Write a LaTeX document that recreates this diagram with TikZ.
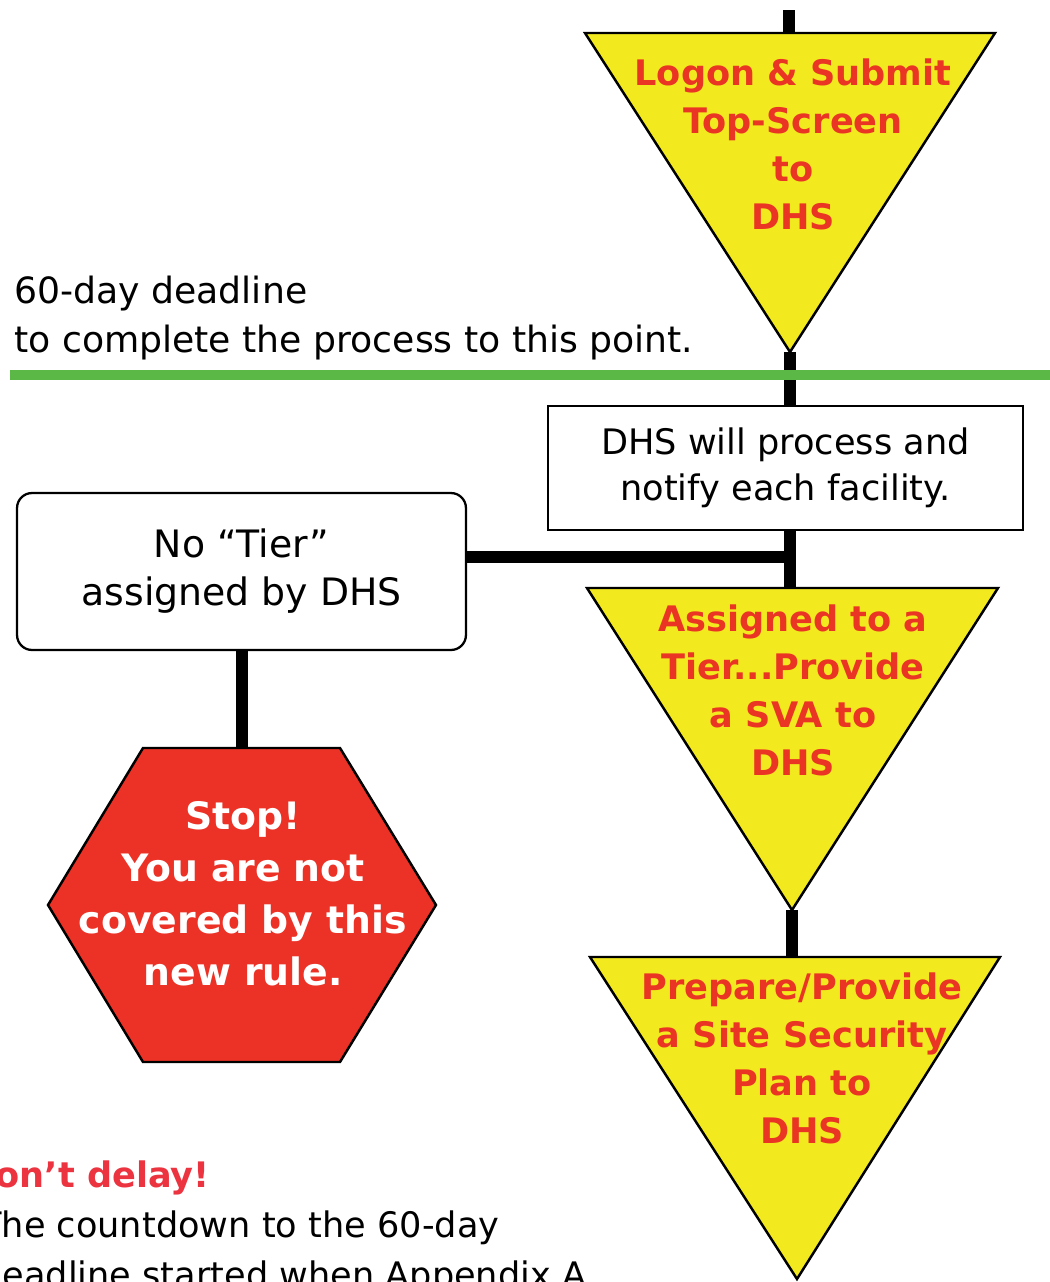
\documentclass[tikz,border=0pt]{standalone}
\usepackage{fontspec}
\setmainfont{DejaVu Sans}
\usetikzlibrary{positioning, calc}

\definecolor{signyellow}{RGB}{242,234,30}
\definecolor{signred}{RGB}{234,52,36}
\definecolor{stopred}{RGB}{236,50,38}
\definecolor{delayred}{RGB}{236,52,64}
\definecolor{deadlinegreen}{RGB}{92,184,70}

\begin{document}
\begin{tikzpicture}[
            x=0.02cm, y=-0.02cm,
            flow_line/.style={line width=0.24cm, black},
            deadline_line/.style={line width=0.2cm, deadlinegreen},
            info_box/.style={rectangle, draw, line width=1.3pt, fill=white, minimum width=9.5cm, minimum height=2.48cm, align=center, font=\fontsize{20}{26.5}\selectfont},
            tier_box/.style={info_box, rounded corners=0.3cm, minimum width=8.98cm, minimum height=3.14cm, font=\fontsize{21.5}{27.3}\selectfont},
            sign_shape/.style={draw, line width=1.4pt, fill=signyellow},
            sign_text/.style={align=center, text=signred, font=\bfseries\fontsize{20}{27.3}\selectfont},
            stop_shape/.style={draw, line width=1.4pt, fill=stopred},
            stop_text/.style={align=center, text=white, font=\bfseries\fontsize{21.5}{29.6}\selectfont},
            note_text/.style={align=left, anchor=west, inner sep=0pt, font=\fontsize{20.6}{28.4}\selectfont}
        ]
    
        \clip (0,0) rectangle (1050,1282);
        \fill[white] (0,0) rectangle (1050,1282);
    
        \coordinate (feed_in) at (789,10);
        \coordinate (submit_top) at (789,33);
        \coordinate (submit_tip) at (790,352);
        \coordinate (tier_join) at (790,557);
        \coordinate (assign_top) at (790,588);
        \coordinate (assign_tip) at (792,910);
        \coordinate (plan_top) at (795,957);
        \coordinate (plan_tip) at (797,1279);
        \coordinate (stop_top) at (241.5,748);
        
        \node[info_box] (dhs_process) at (785.5,468) {DHS will process and\\notify each facility.};
        
        \node[tier_box] (no_tier) at (241.5,571.5) {No “Tier”\\assigned by DHS};
    
        % connectors go under the signs
        \draw[flow_line] (feed_in) -- (submit_top);
        \draw[flow_line] (submit_tip) -- (submit_tip |- dhs_process.north);
        \draw[flow_line] (assign_top |- dhs_process.south) -- (assign_top);
        \draw[flow_line] (tier_join) -- (tier_join -| no_tier.east);
        \draw[flow_line] (no_tier.south) -- (stop_top);
        \draw[flow_line] (assign_tip) -- (assign_tip |- plan_top);
    
        \draw[sign_shape] (585,33) -- (995,33) -- (submit_tip) -- cycle;
        \node[sign_text] (submit_label) at (793,144) {Logon \& Submit\\Top-Screen\\to\\DHS};
        
        \draw[sign_shape] (587,588) -- (998,588) -- (assign_tip) -- cycle;
        \node[sign_text] (assign_label) at (793,690) {Assigned to a\\Tier...Provide\\a SVA to\\DHS};
        
        \draw[sign_shape] (590,957) -- (1000,957) -- (plan_tip) -- cycle;
        \node[sign_text] (plan_label) at (802,1058) {Prepare/Provide\\a Site Security\\Plan to\\DHS};
    
        \draw[stop_shape] (143,748) -- (340,748) -- (436,905) -- (340,1062) -- (143,1062) -- (48,905) -- cycle;
        \node[stop_text] (stop_label) at (243,894) {Stop!\\You are not\\covered by this\\new rule.};
    
        \node[note_text] (deadline_note) at (14,318) {60-day deadline\\to complete the process to this point.};
        \draw[deadline_line] (10,375) -- (1050,375);
    
        \node[note_text, font=\fontsize{20}{28.4}\selectfont] (delay_note) at (-20,1228) {\hspace*{-0.28cm}{\color{delayred}\bfseries Don’t delay!}\\The countdown to the 60-day\\deadline started when Appendix A};
    
    
        \end{tikzpicture}
\end{document}
